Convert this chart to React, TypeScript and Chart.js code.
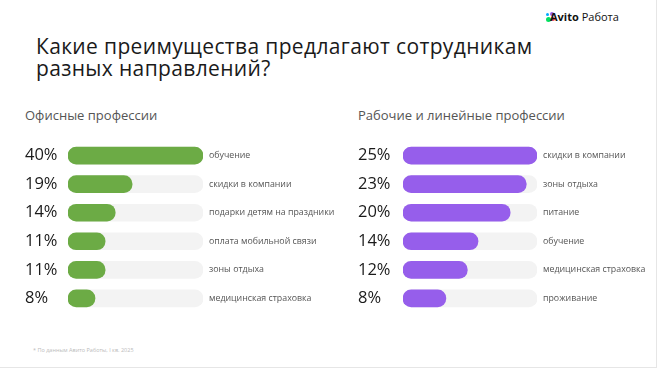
import React, { useEffect, useRef } from "react";
import { Chart, registerables } from "chart.js";

Chart.register(...registerables);

const titleLines = ["Какие преимущества предлагают сотрудникам", "разных направлений?"];
const officeTitle = "Офисные профессии";
const workerTitle = "Рабочие и линейные профессии";
const officeCategories = [
  "обучение",
  "скидки в компании",
  "подарки детям на праздники",
  "оплата мобильной связи",
  "зоны отдыха",
  "медицинская страховка",
];
const officeValues = [40, 19, 14, 11, 11, 8];
const workerCategories = [
  "скидки в компании",
  "зоны отдыха",
  "питание",
  "обучение",
  "медицинская страховка",
  "проживание",
];
const workerValues = [25, 23, 20, 14, 12, 8];
const footnote = "* По данным Авито Работы, I кв. 2025";

const FONT = "'Open Sans', 'Noto Sans', sans-serif";

type PanelProps = {
  categories: string[];
  values: number[];
  color: string;
  left: number;
  top: number;
  width: number;
  height: number;
  leftAxisWidth: number;
  rightAxisWidth: number;
};

function BarPanel(props: PanelProps) {
  const ref = useRef<HTMLCanvasElement | null>(null);
  const { categories, values, color, left, top, width, height, leftAxisWidth, rightAxisWidth } = props;
  useEffect(() => {
    if (!ref.current) return;
    const max = Math.max(...values);
    const pctLabels = values.map((v) => `${v}%`);
    const chart = new Chart(ref.current, {
      type: "bar",
      data: {
        labels: pctLabels,
        datasets: [
          {
            data: values,
            backgroundColor: color,
            borderRadius: 9,
            borderSkipped: false,
            barThickness: 17,
            grouped: false,
            order: 0,
          },
          {
            data: values.map(() => max),
            backgroundColor: "#f3f3f3",
            borderRadius: 9,
            borderSkipped: false,
            barThickness: 17,
            grouped: false,
            order: 1,
          },
        ],
      },
      options: {
        indexAxis: "y",
        animation: false,
        responsive: false,
        maintainAspectRatio: false,
        layout: { padding: 0 },
        plugins: { legend: { display: false }, tooltip: { enabled: false } },
        scales: {
          x: { display: false, min: 0, max },
          y: {
            position: "left",
            offset: true,
            grid: { display: false, drawTicks: false },
            border: { display: false },
            ticks: {
              crossAlign: "far",
              padding: 0,
              color: "#1a1a1a",
              font: { family: FONT, size: 16.5, lineHeight: 1.2 },
            },
            afterFit: (s: any) => {
              s.width = leftAxisWidth;
            },
          },
          y2: {
            type: "category",
            labels: categories,
            position: "right",
            offset: true,
            grid: { display: false, drawTicks: false },
            border: { display: false },
            ticks: {
              padding: 6,
              color: "#555555",
              font: { family: FONT, size: 8.8 },
            },
            afterFit: (s: any) => {
              s.width = rightAxisWidth;
            },
          },
        },
      },
    } as any);
    return () => chart.destroy();
  }, []);
  return (
    <canvas
      ref={ref}
      width={width}
      height={height}
      style={{ position: "absolute", left, top, width, height }}
    />
  );
}

function Logo() {
  const dot = (l: number, t: number, s: number, c: string) => (
    <span
      style={{
        position: "absolute",
        left: l,
        top: t,
        width: s,
        height: s,
        borderRadius: "50%",
        background: c,
      }}
    />
  );
  return (
    <div style={{ position: "absolute", left: 546, top: 11, height: 14, width: 90 }}>
      <div style={{ position: "absolute", left: 0, top: 1, width: 10, height: 12 }}>
        {dot(0, 5, 5, "#04e061")}
        {dot(4, 0, 4, "#965eeb")}
        {dot(0, 1, 3, "#00aaff")}
        {dot(5, 5, 4, "#ff4053")}
      </div>
      <span
        style={{
          position: "absolute",
          left: 4,
          top: -2,
          fontFamily: FONT,
          fontSize: 11,
          color: "#111",
          whiteSpace: "nowrap",
        }}
      >
        <b style={{ fontWeight: 700 }}>Avito</b> Работа
      </span>
    </div>
  );
}

export default function App() {
  return (
    <div
      style={{
        position: "fixed",
        left: 0,
        top: 0,
        width: 656,
        height: 367,
        background: "#fff",
        borderRight: "1px solid #e6e6e6",
        borderBottom: "1px solid #e6e6e6",
        overflow: "hidden",
      }}
    >
      <Logo />
      <div
        style={{
          position: "absolute",
          left: 36,
          top: 35,
          fontFamily: FONT,
          fontSize: 21,
          letterSpacing: "0.35px",
          lineHeight: "22px",
          color: "#1a1a1a",
          whiteSpace: "nowrap",
        }}
      >
        {titleLines.map((l, i) => (
          <div key={i}>{l}</div>
        ))}
      </div>
      <div
        style={{
          position: "absolute",
          left: 25,
          top: 106,
          fontFamily: FONT,
          fontSize: 13,
          color: "#555",
          whiteSpace: "nowrap",
        }}
      >
        {officeTitle}
      </div>
      <div
        style={{
          position: "absolute",
          left: 358,
          top: 106,
          fontFamily: FONT,
          fontSize: 13,
          color: "#555",
          whiteSpace: "nowrap",
        }}
      >
        {workerTitle}
      </div>
      <BarPanel
        categories={officeCategories}
        values={officeValues}
        color="#6cab45"
        left={25}
        top={130}
        width={315}
        height={194}
        leftAxisWidth={43}
        rightAxisWidth={137}
      />
      <BarPanel
        categories={workerCategories}
        values={workerValues}
        color="#965eeb"
        left={358}
        top={130}
        width={299}
        height={194}
        leftAxisWidth={45}
        rightAxisWidth={120}
      />
      <div
        style={{
          position: "absolute",
          left: 33,
          top: 346,
          fontFamily: FONT,
          fontSize: 5.5,
          color: "#bbb",
          whiteSpace: "nowrap",
        }}
      >
        {footnote}
      </div>
    </div>
  );
}
